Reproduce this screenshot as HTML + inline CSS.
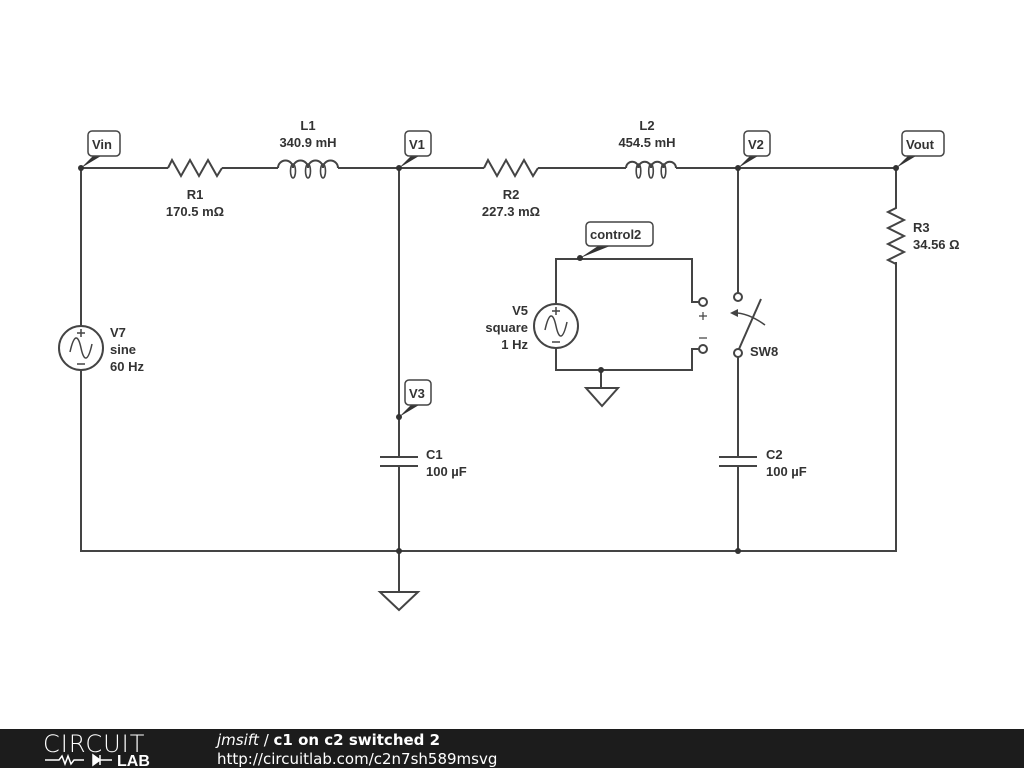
<!DOCTYPE html>
<html><head><meta charset="utf-8"><style>
body{margin:0;width:1024px;height:768px;background:#fff;overflow:hidden;font-family:"Liberation Sans",sans-serif}
</style></head><body>
<svg width="1024" height="768" viewBox="0 0 1024 768" xmlns="http://www.w3.org/2000/svg" font-family="Liberation Sans, sans-serif">
<g stroke="#444" stroke-width="2" fill="none">
<!-- top wire -->
<path d="M81 168H168 M222 168H278 M338 168H484 M538 168H626 M676 168H896"/>
<path d="M168 168l4-8 9 16 9-16 9 16 9-16 9 16 5-8"/>
<path d="M278 168a7.5 7.5 0 0 1 15 0a7.5 7.5 0 0 1 15 0a7.5 7.5 0 0 1 15 0a7.5 7.5 0 0 1 15 0"/>
<ellipse cx="293" cy="171" rx="2.5" ry="7" stroke-width="1.6"/><ellipse cx="308" cy="171" rx="2.5" ry="7" stroke-width="1.6"/><ellipse cx="323" cy="171" rx="2.5" ry="7" stroke-width="1.6"/>
<path d="M484 168l4-8 9 16 9-16 9 16 9-16 9 16 5-8"/>
<path d="M626 168a6.25 6.25 0 0 1 12.5 0a6.25 6.25 0 0 1 12.5 0a6.25 6.25 0 0 1 12.5 0a6.25 6.25 0 0 1 12.5 0"/>
<ellipse cx="638.5" cy="171" rx="2.3" ry="7" stroke-width="1.6"/><ellipse cx="651" cy="171" rx="2.3" ry="7" stroke-width="1.6"/><ellipse cx="663.5" cy="171" rx="2.3" ry="7" stroke-width="1.6"/>
<!-- left V7 -->
<path d="M81 168V326 M81 370V551 H896 V262"/>
<circle cx="81" cy="348" r="22"/>
<path d="M70 352c4-18 8-18 11-4s7 14 11-4" stroke-width="1.5"/>
<path d="M77 333h8M81 329v8M77 364h8" stroke-width="1.5"/>
<!-- R3 -->
<path d="M896 168V208l-8 4 16 8-16 8 16 8-16 8 16 8-16 8 8 4"/>
<!-- C1 -->
<path d="M399 168V457 M399 466V551 M380 457h38 M380 466h38"/>
<path d="M399 551V592 M380 592h38l-19 18z"/>
<!-- V2 branch -->
<path d="M738 168V293 M738 357V457 M738 466V551 M719 457h38 M719 466h38"/>
<circle cx="738" cy="297" r="4"/><circle cx="738" cy="353" r="4"/>
<path d="M739 349L761 299"/>
<path d="M732 313q15 -1 33 12" stroke-width="1.5"/>
<path d="M730 313l8-4v8z" fill="#444" stroke="none"/>
<!-- control -->
<path d="M556 304V259H692V302H699 M556 348V370H692V349H699 M601 370V388 M586 388h32l-16 18z"/>
<circle cx="703" cy="302" r="4"/><circle cx="703" cy="349" r="4"/>
<path d="M699 316h8M703 312v8M699 338h8" stroke-width="1.2"/>
<circle cx="556" cy="326" r="22"/>
<path d="M545 330c4-18 8-18 11-4s7 14 11-4" stroke-width="1.5"/>
<path d="M552 311h8M556 307v8M552 342h8" stroke-width="1.5"/>
</g>
<g fill="#333">
<circle cx="81" cy="168" r="3"/><circle cx="399" cy="168" r="3"/><circle cx="738" cy="168" r="3"/><circle cx="896" cy="168" r="3"/>
<circle cx="399" cy="417" r="3"/><circle cx="399" cy="551" r="3"/><circle cx="738" cy="551" r="3"/>
<circle cx="580" cy="258" r="3"/><circle cx="601" cy="370" r="3"/>
<path d="M81 168l20-12h-8z"/><path d="M399 168l20-12h-8z"/><path d="M738 168l20-12h-8z"/><path d="M896 168l20-12h-8z"/><path d="M399 417l20-12h-8z"/><path d="M580 258l30-12h-12z"/>
</g>
<g fill="#fff" stroke="#444" stroke-width="1.5">
<rect x="88" y="131" width="32" height="25" rx="4"/>
<rect x="405" y="131" width="26" height="25" rx="4"/>
<rect x="744" y="131" width="26" height="25" rx="4"/>
<rect x="902" y="131" width="42" height="25" rx="4"/>
<rect x="405" y="380" width="26" height="25" rx="4"/>
<rect x="586" y="222" width="67" height="24" rx="4"/>
</g>
<g font-size="13" font-weight="bold" fill="#333">
<text x="92" y="149">Vin</text><text x="409" y="149">V1</text><text x="748" y="149">V2</text><text x="906" y="149">Vout</text><text x="409" y="398">V3</text><text x="590" y="239">control2</text>
<g text-anchor="middle">
<text x="308" y="130">L1</text><text x="308" y="147">340.9 mH</text>
<text x="195" y="199">R1</text><text x="195" y="216">170.5 mΩ</text>
<text x="647" y="130">L2</text><text x="647" y="147">454.5 mH</text>
<text x="511" y="199">R2</text><text x="511" y="216">227.3 mΩ</text>
</g>
<text x="110" y="337">V7</text><text x="110" y="354">sine</text><text x="110" y="371">60 Hz</text>
<g text-anchor="end"><text x="528" y="315">V5</text><text x="528" y="332">square</text><text x="528" y="349">1 Hz</text></g>
<text x="913" y="232">R3</text><text x="913" y="249">34.56 Ω</text>
<text x="750" y="356">SW8</text>
<text x="426" y="459">C1</text><text x="426" y="476">100 µF</text>
<text x="766" y="459">C2</text><text x="766" y="476">100 µF</text>
</g>
<rect x="0" y="729" width="1024" height="39" fill="#1c1c1c"/>
<text x="43" y="752" font-size="24" fill="#fff" font-family="DejaVu Sans, sans-serif" font-weight="200" letter-spacing="1">CIRCUIT</text>
<path d="M45 760h14l3-4 3 8 3-8 3 8 3-4h10M100 760h12" stroke="#fff" stroke-width="1.5" fill="none"/>
<path d="M93 755v10l7-5z M100 755v10" fill="#fff" stroke="#fff" stroke-width="1.5"/>
<text x="117" y="766" font-size="16" font-weight="bold" fill="#fff">LAB</text>
<text x="217" y="745" font-size="15" fill="#fff" font-family="DejaVu Sans, sans-serif"><tspan font-style="italic">jmsift</tspan> / <tspan font-weight="bold">c1 on c2 switched 2</tspan></text>
<text x="217" y="764" font-size="15" fill="#fff" font-family="DejaVu Sans, sans-serif">http://circuitlab.com/c2n7sh589msvg</text>
</svg>
</body></html>
